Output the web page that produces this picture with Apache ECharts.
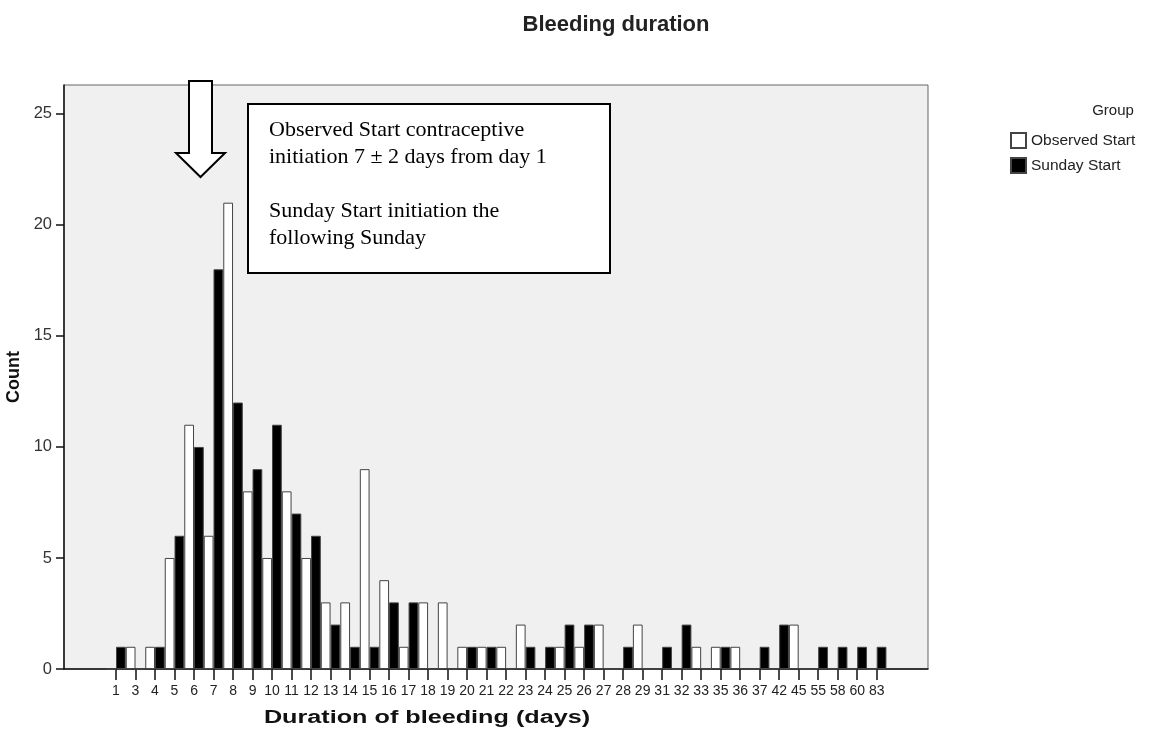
<!DOCTYPE html>
<html>
<head>
<meta charset="utf-8">
<script src="https://cdn.jsdelivr.net/npm/echarts@6/dist/echarts.min.js"></script>
<style>html,body{margin:0;padding:0;background:#fff}#c{width:1151px;height:738px}</style>
</head>
<body>
<div id="c"></div>
<script>
const categories = ['1','3','4','5','6','7','8','9','10','11','12','13','14','15','16','17','18','19','20','21','22','23','24','25','26','27','28','29','31','32','33','35','36','37','42','45','55','58','60','83'];
const observedStart = [0,1,1,5,11,6,21,8,5,8,5,3,3,9,4,1,3,3,1,1,1,2,0,1,1,2,0,2,0,0,1,1,1,0,0,2,0,0,0,0];
const sundayStart   = [1,0,1,6,10,18,12,9,11,7,6,2,1,1,3,3,0,0,1,1,0,1,1,2,2,0,1,0,1,2,0,1,0,1,2,0,1,1,1,1];
const yTicks = [0,5,10,15,20,25];
const seriesNames = ['Observed Start','Sunday Start'];

const sans = "'Liberation Sans', Arial, sans-serif";
const chart = echarts.init(document.getElementById('c'));
const yMax = 26.3;
chart.setOption({
  animation: false,
  backgroundColor: '#ffffff',
  title: [
    { text: 'Bleeding duration', left: 611, top: 9, textAlign: 'center',
      textStyle: { fontFamily: sans, fontSize: 22, fontWeight: 'bold', color: '#222' } },
    { text: 'Group', left: 1108, top: 98, textAlign: 'center',
      textStyle: { fontFamily: sans, fontSize: 15, fontWeight: 'normal', color: '#222' } }
  ],
  legend: {
    data: seriesNames, orient: 'vertical', left: 1010, top: 132, padding: 0,
    itemWidth: 15, itemHeight: 15, itemGap: 8, icon: 'rect',
    textStyle: { fontFamily: sans, fontSize: 15.5, color: '#222' }
  },
  grid: [
    { left: 64, top: 85, width: 864, height: 584, show: true, backgroundColor: '#f0f0f0', borderColor: '#666', borderWidth: 1, outerBoundsMode: 'none', containLabel: false },
    { left: 106.25, top: 85, width: 780.2, height: 584, show: false, outerBoundsMode: 'none', containLabel: false }
  ],
  xAxis: [
    { gridIndex: 0, type: 'value', min: 0, max: 1, axisLine: { show: true, lineStyle: { color: '#111', width: 1.5 } },
      axisTick: { show: false }, axisLabel: { show: false }, splitLine: { show: false } },
    { gridIndex: 1, type: 'category', data: categories, boundaryGap: true,
      axisLine: { show: false },
      axisTick: { show: true, alignWithLabel: true, length: 11, lineStyle: { color: '#111', width: 1.5 } },
      axisLabel: { interval: 0, fontFamily: sans, fontSize: 14, color: '#222', margin: 15 } }
  ],
  yAxis: [
    { gridIndex: 0, type: 'value', min: 0, max: yMax, interval: 5,
      name: 'Count', nameLocation: 'middle', nameGap: 36, nameRotate: 90,
      nameTextStyle: { fontFamily: sans, fontSize: 18, fontWeight: 'bold', color: '#111' },
      axisLine: { show: true, lineStyle: { color: '#111', width: 1.5 } },
      axisTick: { show: true, length: 8, customValues: yTicks, lineStyle: { color: '#111', width: 1.5 } },
      axisLabel: { customValues: yTicks, fontFamily: sans, fontSize: 16.5, color: '#333', margin: 12 },
      splitLine: { show: false } },
    { gridIndex: 1, type: 'value', min: 0, max: yMax, show: false, splitLine: { show: false } }
  ],
  series: [
    { name: seriesNames[0], type: 'bar', xAxisIndex: 1, yAxisIndex: 1, data: observedStart,
      barGap: '0%', barCategoryGap: '0%',
      itemStyle: { color: '#ffffff', borderColor: '#444', borderWidth: 1 } },
    { name: seriesNames[1], type: 'bar', xAxisIndex: 1, yAxisIndex: 1, data: sundayStart,
      barGap: '0%', barCategoryGap: '0%',
      itemStyle: { color: '#000000', borderColor: '#444', borderWidth: 1 } }
  ],
  graphic: [
    { type: 'text', z: 50, x: 427, y: 718, scaleX: 1.4, originX: 0, originY: 0,
      style: { text: 'Duration of bleeding (days)', font: "bold 18px 'Liberation Sans', Arial, sans-serif",
        fill: '#111', align: 'center', verticalAlign: 'middle' } },
    { type: 'polygon', z: 100,
      shape: { points: [[189,81],[212,81],[212,153],[225,153],[200.5,177],[176,153],[189,153]] },
      style: { fill: '#ffffff', stroke: '#000', lineWidth: 2 } },
    { type: 'rect', z: 100, shape: { x: 248, y: 104, width: 362, height: 169 },
      style: { fill: '#ffffff', stroke: '#000', lineWidth: 2 } },
    { type: 'text', z: 101, x: 269, y: 117,
      style: { text: 'Observed Start contraceptive\ninitiation 7 \u00b1 2 days from day 1\n\nSunday Start initiation the\nfollowing Sunday',
        font: "22px 'Liberation Serif', 'Times New Roman', serif", lineHeight: 27, fill: '#000', verticalAlign: 'top' } }
  ]
});
</script>
</body>
</html>
